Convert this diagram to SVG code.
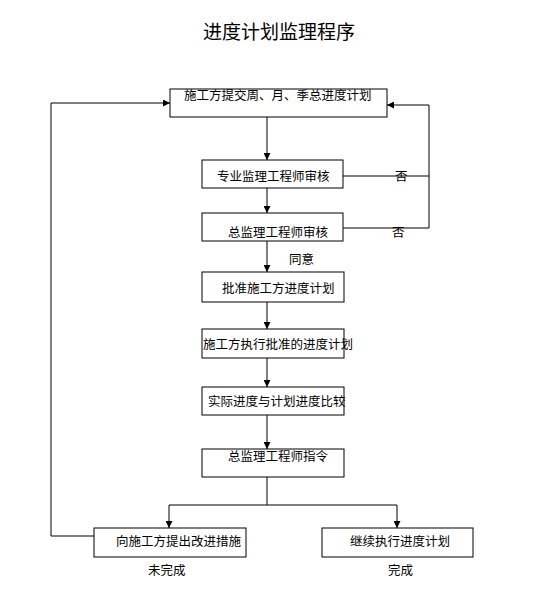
<svg xmlns="http://www.w3.org/2000/svg" width="560" height="605" viewBox="0 0 560 605">
<style>
.box{fill:#fff;stroke:#000;stroke-width:1}
.t{font-family:"Liberation Sans","Noto Sans CJK SC",sans-serif;font-size:12.5px;fill:#000}
.title{font-family:"Liberation Sans","Noto Sans CJK SC",sans-serif;font-size:19px;fill:#000}
.ln{fill:none;stroke:#000;stroke-width:1}
</style>
<defs>
<marker id="ah" viewBox="0 0 10 10" refX="10" refY="5" markerWidth="7" markerHeight="7" orient="auto" markerUnits="userSpaceOnUse">
<path d="M0,0 L10,5 L0,10 Z" fill="#000"/>
</marker>
</defs>
<rect width="560" height="605" fill="#fff"/>
<text class="title" x="279" y="39" text-anchor="middle">进度计划监理程序</text>

<g id="connectors">
<line class="ln" x1="267" y1="117" x2="267" y2="160" marker-end="url(#ah)"/>
<line class="ln" x1="267" y1="188" x2="267" y2="213" marker-end="url(#ah)"/>
<line class="ln" x1="267" y1="241" x2="267" y2="272" marker-end="url(#ah)"/>
<line class="ln" x1="267" y1="302" x2="267" y2="329" marker-end="url(#ah)"/>
<line class="ln" x1="267" y1="358" x2="267" y2="387" marker-end="url(#ah)"/>
<line class="ln" x1="267" y1="415" x2="267" y2="449" marker-end="url(#ah)"/>
<polyline class="ln" points="343,176 429,176"/>
<polyline class="ln" points="343,228 429,228 429,105 387,105" marker-end="url(#ah)"/>
<polyline class="ln" points="267,477 267,505"/>
<polyline class="ln" points="169,505 397,505"/>
<line class="ln" x1="169" y1="505" x2="169" y2="528" marker-end="url(#ah)"/>
<line class="ln" x1="397" y1="505" x2="397" y2="528" marker-end="url(#ah)"/>
<polyline class="ln" points="94,536 51,536 51,103 170,103" marker-end="url(#ah)"/>
<text class="t" x="395" y="181">否</text>
<text class="t" x="392" y="237">否</text>
<text class="t" x="289" y="264">同意</text>
<text class="t" x="148" y="575">未完成</text>
<text class="t" x="388" y="575">完成</text>
</g>

<g id="n1"><rect class="box" x="170" y="89" width="217" height="28"/><text class="t" x="184" y="100">施工方提交周、月、季总进度计划</text></g>
<g id="n2"><rect class="box" x="202" y="160" width="141" height="28"/><text class="t" x="217" y="181">专业监理工程师审核</text></g>
<g id="n3"><rect class="box" x="202" y="213" width="141" height="28"/><text class="t" x="228" y="237">总监理工程师审核</text></g>
<g id="n4"><rect class="box" x="202" y="272" width="142" height="30"/><text class="t" x="222" y="293">批准施工方进度计划</text></g>
<g id="n5"><rect class="box" x="202" y="329" width="142" height="29"/><text class="t" x="203" y="349">施工方执行批准的进度计划</text></g>
<g id="n6"><rect class="box" x="202" y="387" width="142" height="28"/><text class="t" x="208" y="406">实际进度与计划进度比较</text></g>
<g id="n7"><rect class="box" x="202" y="449" width="142" height="28"/><text class="t" x="228" y="461">总监理工程师指令</text></g>
<g id="n8"><rect class="box" x="94" y="528" width="152" height="29"/><text class="t" x="116" y="546">向施工方提出改进措施</text></g>
<g id="n9"><rect class="box" x="322" y="528" width="151" height="29"/><text class="t" x="350" y="546">继续执行进度计划</text></g>
</svg>
